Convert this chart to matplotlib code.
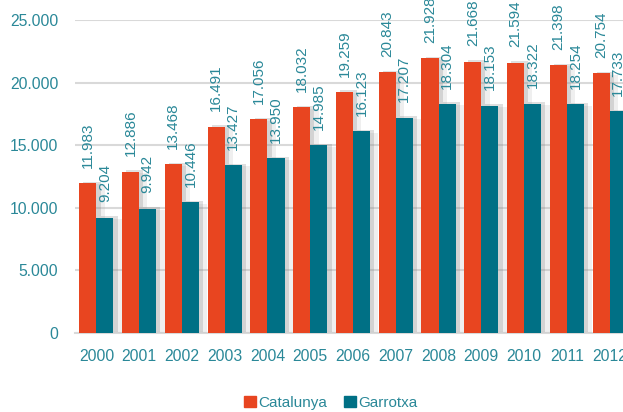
import numpy as np
import matplotlib
matplotlib.use("Agg")
import matplotlib.pyplot as plt
import matplotlib.patheffects as pe
from matplotlib.patches import Patch

years = ["2000", "2001", "2002", "2003", "2004", "2005", "2006",
         "2007", "2008", "2009", "2010", "2011", "2012"]
catalunya = [11983, 12886, 13468, 16491, 17056, 18032, 19259,
             20843, 21928, 21668, 21594, 21398, 20754]
garrotxa = [9204, 9942, 10446, 13427, 13950, 14985, 16123,
            17207, 18304, 18153, 18322, 18254, 17733]

c_orange = "#E84520"
c_teal = "#007085"
c_text = "#2A8898"

plt.rcParams['font.family'] = ['Liberation Sans', 'DejaVu Sans']


def fmt(v):
    return "{:,}".format(v).replace(",", ".")


fig = plt.figure(figsize=(6.23, 4.12), dpi=100)
ax = fig.add_axes([75 / 623, 79 / 412, 556 / 623, 313 / 412])

x = np.arange(len(years))
w = 0.4
# ombre grise floue à droite des barres
shadow = [pe.SimplePatchShadow(offset=(6, -1), shadow_rgbFace="0.7", alpha=0.2),
          pe.SimplePatchShadow(offset=(3, 1), shadow_rgbFace="0.5", alpha=0.25),
          pe.Normal()]
b1 = ax.bar(x - w / 2, catalunya, w, color=c_orange, zorder=3)
b2 = ax.bar(x + w / 2, garrotxa, w, color=c_teal, zorder=3)
for b in list(b1) + list(b2):
    b.set_path_effects(shadow)

for xi, v in zip(x - w / 2, catalunya):
    ax.annotate(fmt(v), (xi, v), xytext=(0, 11), textcoords="offset points",
                rotation=90, ha="center", va="bottom", color=c_text, fontsize=11, zorder=4)
for xi, v in zip(x + w / 2, garrotxa):
    ax.annotate(fmt(v), (xi, v), xytext=(0, 11), textcoords="offset points",
                rotation=90, ha="center", va="bottom", color=c_text, fontsize=11, zorder=4)

ax.set_xlim(-0.5, len(years) - 0.5)
ax.set_ylim(0, 25000)
ax.set_yticks(np.arange(0, 25001, 5000))
ax.set_yticklabels([fmt(v) for v in range(0, 25001, 5000)])
ax.set_xticks(x)
ax.set_xticklabels(years)
ax.tick_params(length=0, colors=c_text, labelsize=11.3)
ax.tick_params(axis="y", pad=12)
ax.tick_params(axis="x", pad=11.5)
ax.grid(axis="y", color="#D9D9D9", linewidth=1.5, zorder=0)
for s in ["top", "right", "left"]:
    ax.spines[s].set_visible(False)
ax.spines["bottom"].set_color("#D9D9D9")
ax.spines["bottom"].set_linewidth(1.5)

handles = [Patch(color=c_orange, label="Catalunya"), Patch(color=c_teal, label="Garrotxa")]
leg = fig.legend(handles=handles, loc="center", bbox_to_anchor=(331 / 623, 1 - 403 / 412),
                 ncol=2, frameon=False, fontsize=11, handlelength=0.8, handleheight=0.75,
                 handletextpad=0.15, columnspacing=1.1)
for t in leg.get_texts():
    t.set_color(c_text)

fig.savefig("out.png", dpi=100)
